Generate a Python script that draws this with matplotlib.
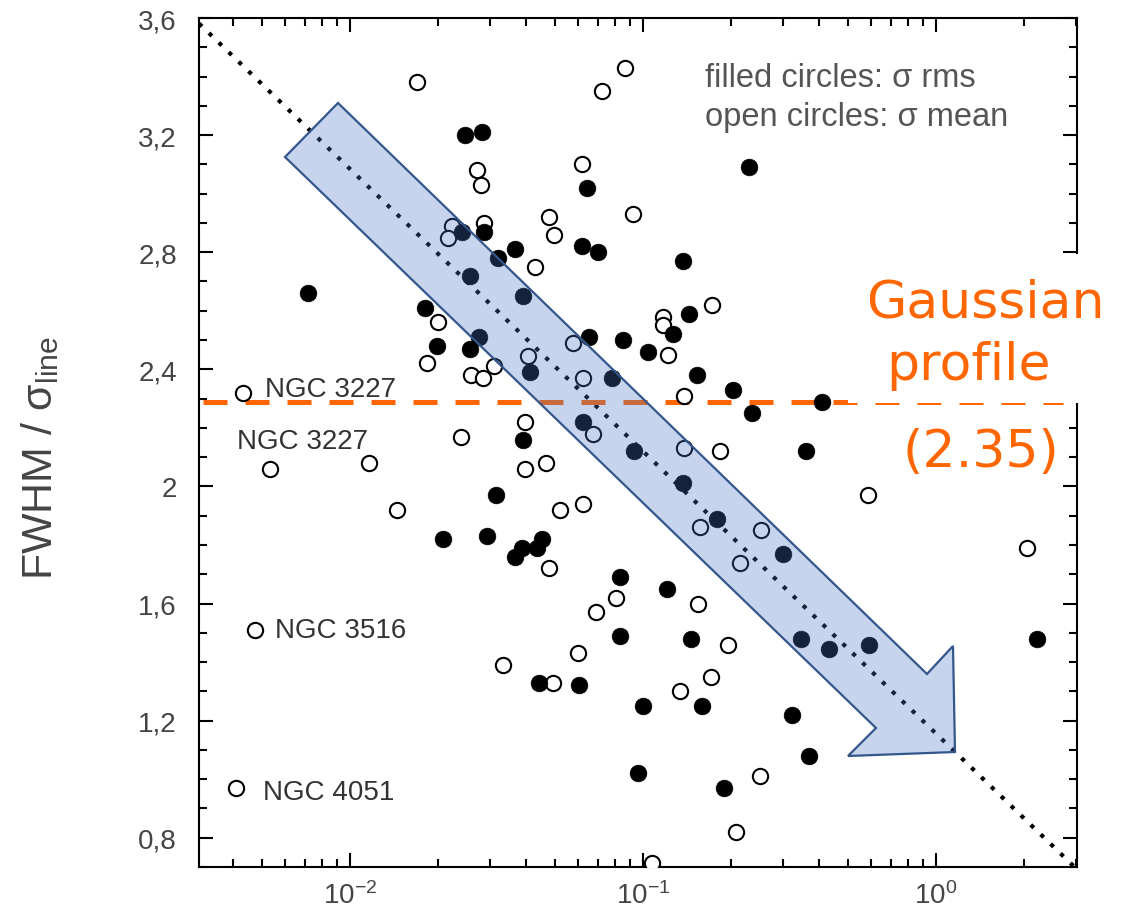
import numpy as np
import matplotlib
matplotlib.use("Agg")
import matplotlib.pyplot as plt
from matplotlib.patches import Polygon, Rectangle
from matplotlib.ticker import FixedLocator, LogLocator, MultipleLocator, NullFormatter

plt.rcParams["font.family"] = ["Liberation Sans", "DejaVu Sans"]
plt.rcParams["mathtext.fontset"] = "custom"
plt.rcParams["mathtext.rm"] = "Liberation Sans"
plt.rcParams["mathtext.it"] = "Liberation Sans:italic"
plt.rcParams["mathtext.bf"] = "Liberation Sans:bold"

# filled circles: sigma rms
rms_x = [0.0072, 0.0247, 0.0282, 0.0644, 0.0241, 0.0287, 0.0366, 0.0320, 0.0619, 0.0702,
         0.0257, 0.0390, 0.230, 0.137, 0.0180, 0.0198, 0.0257, 0.0276, 0.0654, 0.0855,
         0.104, 0.0411, 0.0784, 0.0390, 0.0624, 0.0932, 0.127, 0.144, 0.153, 0.203,
         0.408, 0.236, 0.360, 0.137, 0.179, 0.301, 0.0315, 0.0294, 0.0208, 0.0366,
         0.0386, 0.0435, 0.0452, 0.0835, 0.121, 0.0835, 0.146, 0.346, 0.431, 0.590,
         2.21, 0.100, 0.159, 0.323, 0.369, 0.0962, 0.189, 0.0442, 0.0605]
rms_y = [2.66, 3.20, 3.21, 3.02, 2.87, 2.87, 2.81, 2.78, 2.82, 2.80,
         2.72, 2.65, 3.09, 2.77, 2.61, 2.48, 2.47, 2.51, 2.51, 2.50,
         2.46, 2.39, 2.37, 2.16, 2.22, 2.12, 2.52, 2.59, 2.38, 2.33,
         2.29, 2.25, 2.12, 2.01, 1.89, 1.77, 1.97, 1.83, 1.82, 1.76,
         1.79, 1.79, 1.82, 1.69, 1.65, 1.49, 1.48, 1.48, 1.445, 1.46,
         1.48, 1.25, 1.25, 1.22, 1.08, 1.02, 0.97, 1.33, 1.32]

# open circles: sigma mean
mean_x = [0.0169, 0.0868, 0.0725, 0.0271, 0.0280, 0.0619, 0.0478, 0.0497, 0.0924, 0.0223,
          0.0216, 0.0287, 0.0428, 0.0200, 0.0183, 0.0310, 0.0259, 0.0284, 0.0577, 0.0405,
          0.0624, 0.0396, 0.0239, 0.0675, 0.0396, 0.0467, 0.117, 0.117, 0.122, 0.172,
          0.138, 0.138, 0.183, 0.586, 0.157, 0.253, 0.214, 2.045, 0.0521, 0.0624,
          0.0478, 0.0809, 0.0691, 0.154, 0.0600, 0.0333, 0.0493, 0.134, 0.171, 0.195,
          0.251, 0.208, 0.107, 0.0116, 0.01446, 0.00431, 0.00533, 0.00474, 0.00408]
mean_y = [3.38, 3.43, 3.35, 3.08, 3.03, 3.10, 2.92, 2.86, 2.93, 2.89,
          2.85, 2.90, 2.75, 2.56, 2.42, 2.41, 2.38, 2.37, 2.49, 2.445,
          2.37, 2.22, 2.17, 2.18, 2.06, 2.08, 2.58, 2.55, 2.45, 2.62,
          2.31, 2.13, 2.12, 1.97, 1.86, 1.85, 1.74, 1.79, 1.92, 1.94,
          1.72, 1.62, 1.57, 1.60, 1.43, 1.39, 1.33, 1.30, 1.35, 1.46,
          1.01, 0.82, 0.715, 2.08, 1.92, 2.32, 2.06, 1.51, 0.97]

# labelled objects (text, axes-fraction position of the label's left/center)
ngc_labels = ["NGC 3227", "NGC 3227", "NGC 3516", "NGC 4051"]
ngc_pos = [(0.075, 0.563), (0.043, 0.502), (0.087, 0.279), (0.073, 0.088)]

xticks = [1e-2, 1e-1, 1e0]
xtick_labels = [r"$10^{-2}$", r"$10^{-1}$", r"$10^{0}$"]
yticks = [0.8, 1.2, 1.6, 2.0, 2.4, 2.8, 3.2, 3.6]
ytick_labels = ["0,8", "1,2", "1,6", "2", "2,4", "2,8", "3,2", "3,6"]

# dotted trend line y = a + b*log10(x) and the dashed "gaussian" level
trend_a, trend_b = 1.156, -0.964
gauss_level = 2.288
gauss_xrange = [0.00315, 2.71]

W, H = 1127, 912
GREY = "#444444"
ORANGE = "#FF6600"


def fx(px):
    return px / W


def fy(py):
    return 1 - py / H


fig = plt.figure(figsize=(W / 100, H / 100), dpi=100)
ax = fig.add_axes([fx(199), fy(868), (1077 - 199) / W, (868 - 19) / H])

ax.set_xscale("log")
ax.set_xlim(0.00305, 3.03)
ax.set_ylim(0.7, 3.6)

# trend line
xs = np.logspace(np.log10(0.00305), np.log10(3.03), 50)
ax.plot(xs, trend_a + trend_b * np.log10(xs), color="black", lw=3.0,
        linestyle=(0, (1, 2.3)), dash_capstyle="butt", zorder=2)

# gaussian level
ax.plot(gauss_xrange, [gauss_level, gauss_level], color=ORANGE, lw=3.6,
        linestyle=(0, (4.8, 3.6)), zorder=2, clip_on=False)

ax.plot(mean_x, mean_y, "o", ms=11, mfc="white", mec="black", mew=1.5, ls="none", zorder=3)
ax.plot(rms_x, rms_y, "o", ms=12, mfc="black", mec="black", mew=0.5, ls="none", zorder=4)

for lab, (tx, ty) in zip(ngc_labels, ngc_pos):
    ax.text(tx, ty, lab, transform=ax.transAxes, fontsize=20, color="#333333",
            ha="left", va="center")

ax.text(0.576, 0.920, "filled circles: σ rms", transform=ax.transAxes, fontsize=23.5,
        color="#555555", ha="left", va="baseline")
ax.text(0.576, 0.874, "open circles: σ mean", transform=ax.transAxes, fontsize=23.5,
        color="#555555", ha="left", va="baseline")

ax.xaxis.set_major_locator(FixedLocator(xticks))
ax.set_xticklabels(xtick_labels)
ax.xaxis.set_minor_locator(LogLocator(base=10, subs=np.arange(2, 10), numticks=20))
ax.xaxis.set_minor_formatter(NullFormatter())
ax.set_yticks(yticks)
ax.set_yticklabels(ytick_labels)
ax.yaxis.set_minor_locator(MultipleLocator(0.1))

ax.tick_params(which="both", direction="in", top=True, right=True, width=1.5,
               color="black", labelsize=20, labelcolor=GREY)
ax.tick_params(which="major", length=10)
ax.tick_params(which="minor", length=5.5)
ax.tick_params(axis="y", pad=16)
ax.tick_params(axis="x", pad=10)
for sp in ax.spines.values():
    sp.set_linewidth(1.5)

fig.text(fx(52), fy(458), "FWHM / σ$_{\\mathrm{line}}$", rotation=90, rotation_mode="anchor",
         ha="center", va="baseline", fontsize=31, color=GREY)

# highlighted arrow drawn over the data
arrow_px = [(338, 104), (927, 675), (953, 647), (955, 753), (848, 757), (876, 729), (285, 158)]
fig.add_artist(Polygon([(fx(x), fy(y)) for x, y in arrow_px], closed=True,
                       transform=fig.transFigure, facecolor=(0.267, 0.447, 0.769, 0.3),
                       edgecolor="#34568B", lw=1.6, zorder=5))

# white box behind the annotation
fig.add_artist(Rectangle((fx(848), fy(403.5)), (W - 848) / W, (403.5 - 255) / H,
                         transform=fig.transFigure, facecolor="white", edgecolor="none",
                         zorder=6))
fig.text(fx(985), fy(318), "Gaussian", fontsize=37.5, color=ORANGE, family="DejaVu Sans",
         ha="center", va="baseline", zorder=7)
fig.text(fx(968), fy(380), "profile", fontsize=37.5, color=ORANGE, family="DejaVu Sans",
         ha="center", va="baseline", zorder=7)
fig.text(fx(981), fy(467), "(2.35)", fontsize=37.5, color=ORANGE, family="DejaVu Sans",
         ha="center", va="baseline", zorder=7)

fig.savefig("out.png", dpi=100)
